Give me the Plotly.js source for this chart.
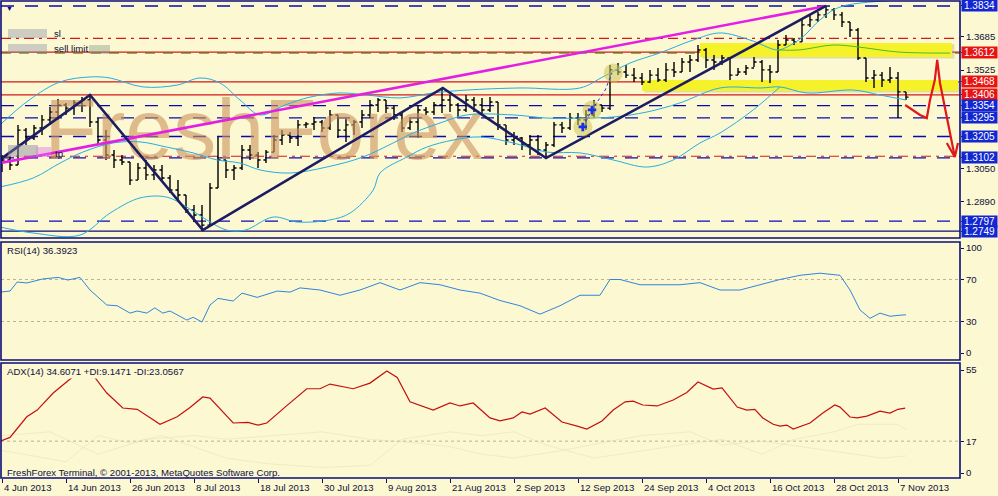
<!DOCTYPE html>
<html><head><meta charset="utf-8">
<script src="https://cdn.plot.ly/plotly-3.0.1.min.js"></script>
<style>html,body{margin:0;padding:0;background:#fbf8d2;}#c{width:998px;height:496px;}</style>
</head><body><div id="c"></div>
<script>
// ---------- DATA ----------
const dateLabels = ["4 Jun 2013","14 Jun 2013","26 Jun 2013","8 Jul 2013","18 Jul 2013","30 Jul 2013","9 Aug 2013","21 Aug 2013","2 Sep 2013","12 Sep 2013","24 Sep 2013","4 Oct 2013","16 Oct 2013","28 Oct 2013","7 Nov 2013"];
const dateIdx = [0,8,16,24,32,40,48,56,64,72,80,88,96,104,112];

const openP = [1.3053,1.3092,1.3068,1.3236,1.3198,1.3246,1.3285,1.3323,1.3357,1.3342,
 1.3367,1.3381,1.3275,1.3188,1.3116,1.3092,1.3082,1.2995,1.3053,1.3020,
 1.3044,1.3005,1.2947,1.2923,1.2851,1.2827,1.2778,1.2957,1.3092,1.3044,
 1.3053,1.3140,1.3116,1.3092,1.3130,1.3188,1.3212,1.3198,1.3261,1.3265,
 1.3275,1.3246,1.3309,1.3236,1.3261,1.3275,1.3309,1.3357,1.3381,1.3342,
 1.3309,1.3246,1.3275,1.3333,1.3323,1.3357,1.3381,1.3357,1.3333,1.3381,
 1.3357,1.3333,1.3371,1.3261,1.3188,1.3198,1.3164,1.3188,1.3140,1.3164,
 1.3261,1.3246,1.3294,1.3285,1.3309,1.3357,1.3342,1.3526,1.3516,1.3501,
 1.3487,1.3468,1.3501,1.3477,1.3526,1.3516,1.3564,1.3574,1.3622,1.3574,
 1.3564,1.3583,1.3501,1.3516,1.3535,1.3564,1.3526,1.3516,1.3646,1.3670,
 1.3661,1.3743,1.3767,1.3791,1.3815,1.3791,1.3757,1.3718,1.3583,1.3487,
 1.3501,1.3477,1.3487,1.3420];
const highP = [1.3116,1.3106,1.3261,1.3246,1.3261,1.3309,1.3347,1.3386,1.3367,1.3381,
 1.3395,1.3405,1.3294,1.3236,1.3140,1.3116,1.3082,1.3077,1.3092,1.3068,
 1.3068,1.3020,1.2995,1.2923,1.2875,1.2875,1.2981,1.3203,1.3092,1.3068,
 1.3164,1.3164,1.3130,1.3140,1.3212,1.3236,1.3227,1.3285,1.3275,1.3299,
 1.3285,1.3333,1.3309,1.3294,1.3285,1.3333,1.3381,1.3391,1.3381,1.3357,
 1.3318,1.3294,1.3357,1.3347,1.3371,1.3439,1.3405,1.3367,1.3405,1.3395,
 1.3391,1.3395,1.3371,1.3261,1.3227,1.3203,1.3212,1.3212,1.3179,1.3275,
 1.3275,1.3318,1.3318,1.3333,1.3381,1.3357,1.3550,1.3559,1.3550,1.3535,
 1.3511,1.3526,1.3535,1.3559,1.3564,1.3583,1.3598,1.3646,1.3632,1.3598,
 1.3598,1.3583,1.3535,1.3550,1.3588,1.3574,1.3550,1.3670,1.3694,1.3680,
 1.3767,1.3791,1.3805,1.3834,1.3824,1.3805,1.3757,1.3728,1.3583,1.3526,
 1.3516,1.3540,1.3516,1.3420];
const lowP = [1.3034,1.3044,1.3068,1.3164,1.3188,1.3212,1.3261,1.3285,1.3309,1.3309,
 1.3323,1.3251,1.3164,1.3092,1.3053,1.3068,1.2971,1.2995,1.2995,1.2995,
 1.2995,1.2933,1.2899,1.2836,1.2793,1.2750,1.2778,1.2957,1.3005,1.2995,
 1.3044,1.3092,1.3053,1.3077,1.3130,1.3164,1.3174,1.3159,1.3246,1.3236,
 1.3227,1.3236,1.3198,1.3179,1.3212,1.3246,1.3294,1.3323,1.3318,1.3285,
 1.3227,1.3236,1.3198,1.3309,1.3309,1.3318,1.3323,1.3299,1.3323,1.3323,
 1.3309,1.3323,1.3236,1.3164,1.3164,1.3140,1.3116,1.3116,1.3101,1.3154,
 1.3222,1.3236,1.3261,1.3236,1.3294,1.3323,1.3333,1.3501,1.3487,1.3468,
 1.3453,1.3463,1.3468,1.3468,1.3492,1.3516,1.3516,1.3564,1.3535,1.3526,
 1.3550,1.3477,1.3501,1.3501,1.3540,1.3468,1.3463,1.3516,1.3646,1.3646,
 1.3661,1.3733,1.3757,1.3776,1.3767,1.3733,1.3685,1.3574,1.3468,1.3439,
 1.3444,1.3463,1.3294,1.3381];
const closeP = [1.3092,1.3068,1.3236,1.3198,1.3246,1.3285,1.3323,1.3357,1.3342,1.3367,
 1.3381,1.3275,1.3188,1.3116,1.3092,1.3082,1.2995,1.3053,1.3020,1.3044,
 1.3005,1.2947,1.2923,1.2851,1.2827,1.2778,1.2957,1.3092,1.3044,1.3053,
 1.3140,1.3116,1.3092,1.3130,1.3188,1.3212,1.3198,1.3261,1.3265,1.3275,
 1.3246,1.3309,1.3236,1.3261,1.3275,1.3309,1.3357,1.3381,1.3342,1.3309,
 1.3246,1.3275,1.3333,1.3323,1.3357,1.3381,1.3357,1.3333,1.3381,1.3357,
 1.3333,1.3371,1.3261,1.3188,1.3198,1.3164,1.3188,1.3140,1.3164,1.3261,
 1.3246,1.3294,1.3285,1.3309,1.3357,1.3342,1.3526,1.3516,1.3501,1.3487,
 1.3468,1.3501,1.3477,1.3526,1.3516,1.3564,1.3574,1.3622,1.3574,1.3564,
 1.3583,1.3501,1.3516,1.3535,1.3564,1.3526,1.3516,1.3646,1.3670,1.3661,
 1.3743,1.3767,1.3791,1.3815,1.3791,1.3757,1.3718,1.3583,1.3487,1.3501,
 1.3477,1.3487,1.3420,1.3395];

// Bollinger-type bands (read points)
const bbUpX = [-0.25,3.4,7.25,11,13.5,17.6,21.9,24.75,27.25,29.75,32.25,35.4,38.5,42.25,45.6,49.75,53.9,58.1,64.75,72.25,75.1,78.5,82.25,86.4,89.75,93.5,96.9,98.1,100.1,102.25,104.75,111.9,114];
const bbUpY = [1.3261,1.3381,1.3468,1.3492,1.3487,1.3444,1.3453,1.3487,1.3463,1.3381,1.3309,1.3357,1.3395,1.3415,1.3405,1.3391,1.3415,1.3429,1.3439,1.3439,1.3492,1.3559,1.3608,1.3670,1.3704,1.3670,1.3622,1.3636,1.3685,1.3767,1.3829,1.3863,1.3870];
const bbMidX = [-0.25,3.9,7.25,10.1,13.9,17.25,20.6,23.9,26.9,29.75,32.25,36,40.6,45.1,48.9,51.4,54.75,58.1,63.9,68.1,72.25,76.4,80.6,84.75,89.75,94.9,97.25,100.6,106.4,109.75,113];
const bbMidY = [1.2962,1.3005,1.3077,1.3130,1.3174,1.3179,1.3154,1.3126,1.3092,1.3077,1.3044,1.3029,1.3058,1.3106,1.3174,1.3222,1.3270,1.3309,1.3309,1.3294,1.3294,1.3299,1.3323,1.3367,1.3439,1.3439,1.3444,1.3415,1.3429,1.3405,1.3381];
const bbLowX = [-0.25,3.9,9.75,13.5,17.25,20.6,23.1,25.6,28.1,30.4,33.9,36.9,41,43.5,46.4,47.25,50.6,53.1,56.4,59.75,63.9,68.1,72.25,76.4,80.6,83.9,87.25,89.75,93.9,97.25];
const bbLowY = [1.2769,1.2740,1.2730,1.2836,1.2909,1.2913,1.2865,1.2803,1.2754,1.2754,1.2817,1.2793,1.2803,1.2836,1.2947,1.3029,1.3106,1.3154,1.3188,1.3203,1.3174,1.3130,1.3126,1.3092,1.3058,1.3092,1.3174,1.3222,1.3333,1.3444];
const greenX = [96.9,99.6,103.9,107.1,112.1,118.5];
const greenY = [1.3622,1.3622,1.3646,1.3636,1.3612,1.3607];

// Zigzag and trend line
const zigX = [0,11,25.1,55.1,68,103];
const zigY = [1.3101,1.3405,1.2754,1.3439,1.3101,1.3834];
const trendX = [-0.25,103];
const trendY = [1.3077,1.3834];

// Horizontal levels
const levelBlueDashed = [1.3834,1.3354,1.3295,1.3205,1.3102,1.2797];
const levelRedSolid = [1.3612,1.3468,1.3406];
const levelRedDashDot = [1.3678,1.3110];
const levelGreenDashed = [1.3607];
const levelBlueSolid = [1.2749];

// Right axis labels
const plainTicks = [1.3685,1.3525,1.3050,1.2890];
const boxLabels = [1.3834,1.3612,1.3468,1.3406,1.3354,1.3295,1.3205,1.3102,1.2797,1.2749];
const boxKinds  = ["b","r","r","r","b","b","b","b","b","b"];

// Yellow zones [x0,x1,y0,y1]
const zoneX0 = [87.25,80];
const zoneX1 = [118.75,119.5];
const zoneY0 = [1.3588,1.3424];
const zoneY1 = [1.3656,1.3477];

// Circles (entries)
const circX = [72.6,73.75,76.4];
const circY = [1.3251,1.3333,1.3511];
const crossX = [72.6,73.75];
const crossY = [1.3251,1.3333];
const dotX = [72.6,73.75,75.4,76.25];
const dotY = [1.3251,1.3333,1.3429,1.3511];

// Red hand-drawn forecast
const arrowX = [112.9,113.75,114.75,115.6,116,116.6,116.9,117.25,118.1,118.9,119.1];
const arrowY = [1.3357,1.3333,1.3309,1.3294,1.3381,1.3477,1.3574,1.3463,1.3299,1.3140,1.3106];
const headX = [118.1,119.1,119.5];
const headY = [1.3174,1.3106,1.3174];

// RSI(14)
const rsiX = [-0.25,1,1.9,3.1,5.1,7,8.25,9.75,11,13.1,14.4,16,16.9,18.1,19.1,20.1,21,23.1,23.9,25,26,27,28.9,30,31.9,34.4,36,37.25,39.75,42.25,44.75,47.25,49.75,52.25,54.75,57.25,59.75,62.25,64.75,67.25,69.75,72.25,74.75,76,77.25,79.75,82.25,84.75,87.25,89.75,92.25,94.75,97.25,99.75,102.25,104.75,106,107.25,108.5,109.75,111,112.25,113];
const rsiV = [58,59,67.6,66.7,70.5,72,69.5,72,60,45.7,45,38,40,38,43,38,40,31.4,34,29.5,45.7,52,49.5,57,53,59,58,62,60,55,60,67,60,67,65,60,57,50,45,37,45,55,55,70,70,65,65,65,67,60,60,65,70,74,76,74,60,41,33,38,35,36,36.4];

// ADX(14), +DI, -DI
const adxX = [-0.25,1,3.1,4.4,6.4,8.75,10.4,11.6,13.1,15.1,16.9,19.75,21.9,23.5,25.1,26,28.9,30.75,32,33.1,35.6,38.1,39.75,41,43.9,46,48.1,49.4,51,53.9,56,57.25,58.9,61,62.25,63.9,65,66,67.9,70,71.9,73.1,75,76.4,77.9,78.9,80.1,81.9,83.9,85.6,87,88.9,90,91.9,93.1,94.1,95.1,96.4,97.25,98.1,98.9,101,102.6,104.1,104.75,106,106.9,108.1,109.75,111,112,112.9];
const adxV = [17,19,30,33.6,42.7,51,56,51,42.7,34.7,34,26,30,35,40.6,40,26.7,27,25.6,26.7,36,45,45,47.5,45,48,54.5,51,38,33.6,37.4,35.8,37.4,29.4,27.8,29.4,32.6,31.5,34.7,27.2,25,23.5,27.8,33.6,38,38.4,36.3,35.8,39,43,48.6,44.8,45.4,35.2,33.6,34,29.4,26,25,25.6,23.5,26.7,32,36.3,35.2,29.9,29.4,30.4,33,32,34,34.6];
const diPlusX = [0,6,12,18,24,28,34,40,46,52,56,60,64,70,76,80,86,90,95,100,104,107,110,113];
const diPlusV = [20,22,10,18,20,18,20,22,18,16,14,10,8,12,17,20,22,15,17,14,12,10,8,9.1];
const diMinusX = [0,8,12,16,20,24,28,33,40,46,50,56,60,64,68,74,80,85,90,95,99,104,107,110,112,113];
const diMinusV = [12,6,20,16,20,14,8,5,3,4,18,22,20,22,15,8,12,15,18,10,18,22,26,26,26,23.1];

// ---------- STYLE / LAYOUT ----------
const BG = '#fbf8d2', NAVY = '#0c0c78', BLUE = '#0a0ab4', RED = '#d41a1a';
const idx = closeP.map((_, i) => i);
const plotTop = 1, plotBot = 478, plotH = plotBot - plotTop;
const py = p => (plotBot - p) / plotH;          // pixel row -> paper y
const px = p => (p - 1) / 959;                   // pixel col -> paper x

const traces = [];
traces.push({type:'scatter', mode:'text', x:[32.75], y:[1.3200], text:['FreshForex'],
  textfont:{family:'Liberation Sans, Arial, sans-serif', size:86, color:'rgba(205,150,95,0.62)'},
  hoverinfo:'skip', xaxis:'x', yaxis:'y'});
const cy = '#27aee0';
traces.push({type:'scatter', mode:'lines', x:bbUpX, y:bbUpY, line:{color:cy, width:1, shape:'spline'}, xaxis:'x', yaxis:'y'});
traces.push({type:'scatter', mode:'lines', x:bbMidX, y:bbMidY, line:{color:cy, width:1, shape:'spline'}, xaxis:'x', yaxis:'y'});
traces.push({type:'scatter', mode:'lines', x:bbLowX, y:bbLowY, line:{color:cy, width:1, shape:'spline'}, xaxis:'x', yaxis:'y'});
traces.push({type:'scatter', mode:'lines', x:greenX, y:greenY, line:{color:'#4cbc2c', width:1, shape:'spline'}, xaxis:'x', yaxis:'y'});
traces.push({type:'ohlc', x:idx, open:openP, high:highP, low:lowP, close:closeP, tickwidth:0.32,
  increasing:{line:{color:'#000000', width:1.4}}, decreasing:{line:{color:'#000000', width:1.4}}, xaxis:'x', yaxis:'y'});
traces.push({type:'scatter', mode:'lines', x:trendX, y:trendY, line:{color:'#e41ee4', width:2.6}, xaxis:'x', yaxis:'y'});
traces.push({type:'scatter', mode:'lines', x:zigX, y:zigY, line:{color:'#1c1c62', width:2.6}, xaxis:'x', yaxis:'y'});
traces.push({type:'scatter', mode:'markers', x:circX, y:circY, marker:{size:19, color:'rgba(205,195,90,0.55)', line:{width:0}}, xaxis:'x', yaxis:'y'});
traces.push({type:'scatter', mode:'lines', x:dotX, y:dotY, line:{color:'#2030e0', width:1, dash:'dot'}, xaxis:'x', yaxis:'y'});
traces.push({type:'scatter', mode:'markers', x:crossX, y:crossY, marker:{symbol:'cross', size:7, color:'#1830e8'}, xaxis:'x', yaxis:'y'});
traces.push({type:'scatter', mode:'lines', x:arrowX, y:arrowY, line:{color:'#e01818', width:2.2}, xaxis:'x', yaxis:'y', cliponaxis:false});
traces.push({type:'scatter', mode:'lines', x:headX, y:headY, line:{color:'#e01818', width:2.2}, xaxis:'x', yaxis:'y', cliponaxis:false});
// RSI
traces.push({type:'scatter', mode:'lines', x:rsiX, y:rsiV, line:{color:'#2f86dc', width:1}, xaxis:'x', yaxis:'y2'});
// ADX
traces.push({type:'scatter', mode:'lines', x:diPlusX, y:diPlusV, line:{color:'rgba(228,212,165,0.38)', width:1}, xaxis:'x', yaxis:'y3'});
traces.push({type:'scatter', mode:'lines', x:diMinusX, y:diMinusV, line:{color:'rgba(228,212,165,0.38)', width:1}, xaxis:'x', yaxis:'y3'});
traces.push({type:'scatter', mode:'lines', x:adxX, y:adxV, line:{color:'#c41010', width:1.2}, xaxis:'x', yaxis:'y3'});

const shapes = [];
const hline = (y, color, dash, width) => ({type:'line', xref:'paper', x0:0, x1:1, yref:'y', y0:y, y1:y, layer:'below', line:{color, width, dash}});
for (let i = 0; i < zoneX0.length; i++) {
  shapes.push({type:'rect', xref:'x', yref:'y', x0:zoneX0[i]+0.3, x1:zoneX1[i]+0.3, y0:zoneY0[i]-0.0007, y1:zoneY1[i]-0.0007, layer:'below', line:{width:0}, fillcolor:'rgba(170,170,110,0.35)'});
  shapes.push({type:'rect', xref:'x', yref:'y', x0:zoneX0[i], x1:zoneX1[i], y0:zoneY0[i], y1:zoneY1[i], layer:'below', line:{width:0}, fillcolor:'#f6f22a'});
}
levelBlueDashed.forEach(v => shapes.push(hline(v, BLUE, '13px,11px', 1.3)));
levelRedDashDot.forEach(v => shapes.push(hline(v, RED, '10px,5px,3px,5px', 1.2)));
levelGreenDashed.forEach(v => shapes.push(hline(v, '#40a830', '10px,8px', 1.3)));
levelRedSolid.forEach(v => shapes.push(hline(v, RED, 'solid', 1.2)));
levelBlueSolid.forEach(v => shapes.push(hline(v, NAVY, 'solid', 1.3)));
// RSI / ADX level lines
[30,70].forEach(v => shapes.push({type:'line', xref:'paper', x0:0, x1:1, yref:'y2', y0:v, y1:v, layer:'below', line:{color:'#b8b49a', width:1, dash:'3px,3px'}}));
shapes.push({type:'line', xref:'paper', x0:0, x1:1, yref:'y3', y0:17, y1:17, layer:'below', line:{color:'#b8b49a', width:1, dash:'3px,3px'}});
// Panel frames
['y','y2','y3'].forEach(a => shapes.push({type:'rect', xref:'paper', x0:0, x1:1, yref:a+' domain', y0:0, y1:1, line:{color:NAVY, width:1.6}, layer:'above'}));
// blurred label boxes
const blur = (x0,x1,y0,y1,c) => ({type:'rect', xref:'paper', yref:'paper', x0:px(x0), x1:px(x1), y0:py(y1), y1:py(y0), line:{width:0}, fillcolor:c, layer:'above'});
shapes.push(blur(8,47,29,38,'rgba(140,140,170,0.40)'));
shapes.push(blur(8,47,44,53,'rgba(140,140,170,0.40)'));
shapes.push(blur(89,110,45,54,'rgba(130,150,130,0.40)'));
shapes.push(blur(8,38,145,157,'rgba(130,130,160,0.45)'));
shapes.push(blur(36,51,147,157,'rgba(225,120,235,0.45)'));

const annotations = [];
const txtFont = {family:'Liberation Sans, Arial, sans-serif', size:9.6, color:'#101040'};
boxLabels.forEach((v, i) => annotations.push({xref:'paper', x:1, xanchor:'left', xshift:1, yref:'y', y:v, yanchor:'middle',
  text:v.toFixed(4), showarrow:false, bgcolor: boxKinds[i] === 'r' ? '#e81414' : '#1226d2', width:35, height:11, borderpad:0,
  font:{family:'Liberation Sans, Arial, sans-serif', size:10, color:'#ffffff'}}));
dateLabels.forEach((d, i) => annotations.push({xref:'x', x:dateIdx[i], xanchor:'left', xshift:0, yref:'paper', y:py(488), yanchor:'middle',
  text:d, showarrow:false, font:txtFont}));
annotations.push({xref:'paper', x:px(5), xanchor:'left', yref:'paper', y:py(250), yanchor:'middle', text:'RSI(14) 36.3923', showarrow:false, font:txtFont});
annotations.push({xref:'paper', x:px(5), xanchor:'left', yref:'paper', y:py(371), yanchor:'middle', text:'ADX(14) 34.6071 +DI:9.1471 -DI:23.0567', showarrow:false, font:txtFont, bgcolor:BG});
annotations.push({xref:'paper', x:px(5), xanchor:'left', yref:'paper', y:py(472), yanchor:'middle', text:'FreshForex Terminal, © 2001-2013, MetaQuotes Software Corp.', showarrow:false, font:txtFont});
annotations.push({xref:'paper', x:px(52), xanchor:'left', yref:'paper', y:py(34), yanchor:'middle', text:'sl', showarrow:false, font:txtFont});
annotations.push({xref:'paper', x:px(52), xanchor:'left', yref:'paper', y:py(49), yanchor:'middle', text:'sell limit', showarrow:false, font:txtFont});
annotations.push({xref:'paper', x:px(53), xanchor:'left', yref:'paper', y:py(153), yanchor:'middle', text:'tp', showarrow:false, font:txtFont});
annotations.push({xref:'paper', x:px(4), xanchor:'left', yref:'paper', y:py(8), yanchor:'middle', text:'▼', showarrow:false, font:{size:7, color:NAVY}});

const yAxisBase = {side:'right', anchor:'x', showgrid:false, zeroline:false, ticks:'outside', ticklen:3, tickcolor:NAVY,
  tickfont:{family:'Liberation Sans, Arial, sans-serif', size:9.6, color:'#101040'}, fixedrange:true};
const layout = {
  width:998, height:496, margin:{l:1, r:38, t:1, b:18}, paper_bgcolor:BG, plot_bgcolor:BG, showlegend:false,
  xaxis:{domain:[0,1], range:[-0.125,119.75], anchor:'y3', showgrid:false, zeroline:false, showticklabels:false,
    ticks:'outside', ticklen:4, tickcolor:NAVY, tickmode:'array', tickvals:dateIdx, rangeslider:{visible:false}, fixedrange:true},
  yaxis:Object.assign({}, yAxisBase, {domain:[py(238),1], range:[1.2716,1.3858], tickmode:'array',
    tickvals:plainTicks.concat(boxLabels), ticktext:plainTicks.map(v=>v.toFixed(4)).concat(boxLabels.map(()=>''))}),
  yaxis2:Object.assign({}, yAxisBase, {domain:[py(360),py(242)], range:[-6.67,105.71], tickmode:'array', tickvals:[0,30,70,100], ticktext:['0','30','70','100']}),
  yaxis3:Object.assign({}, yAxisBase, {domain:[0,py(363)], range:[-2.67,58.74], tickmode:'array', tickvals:[0,17,55], ticktext:['0','17','55']}),
  shapes, annotations, hovermode:false
};
Plotly.newPlot('c', traces, layout, {displayModeBar:false, staticPlot:true});
</script></body></html>
